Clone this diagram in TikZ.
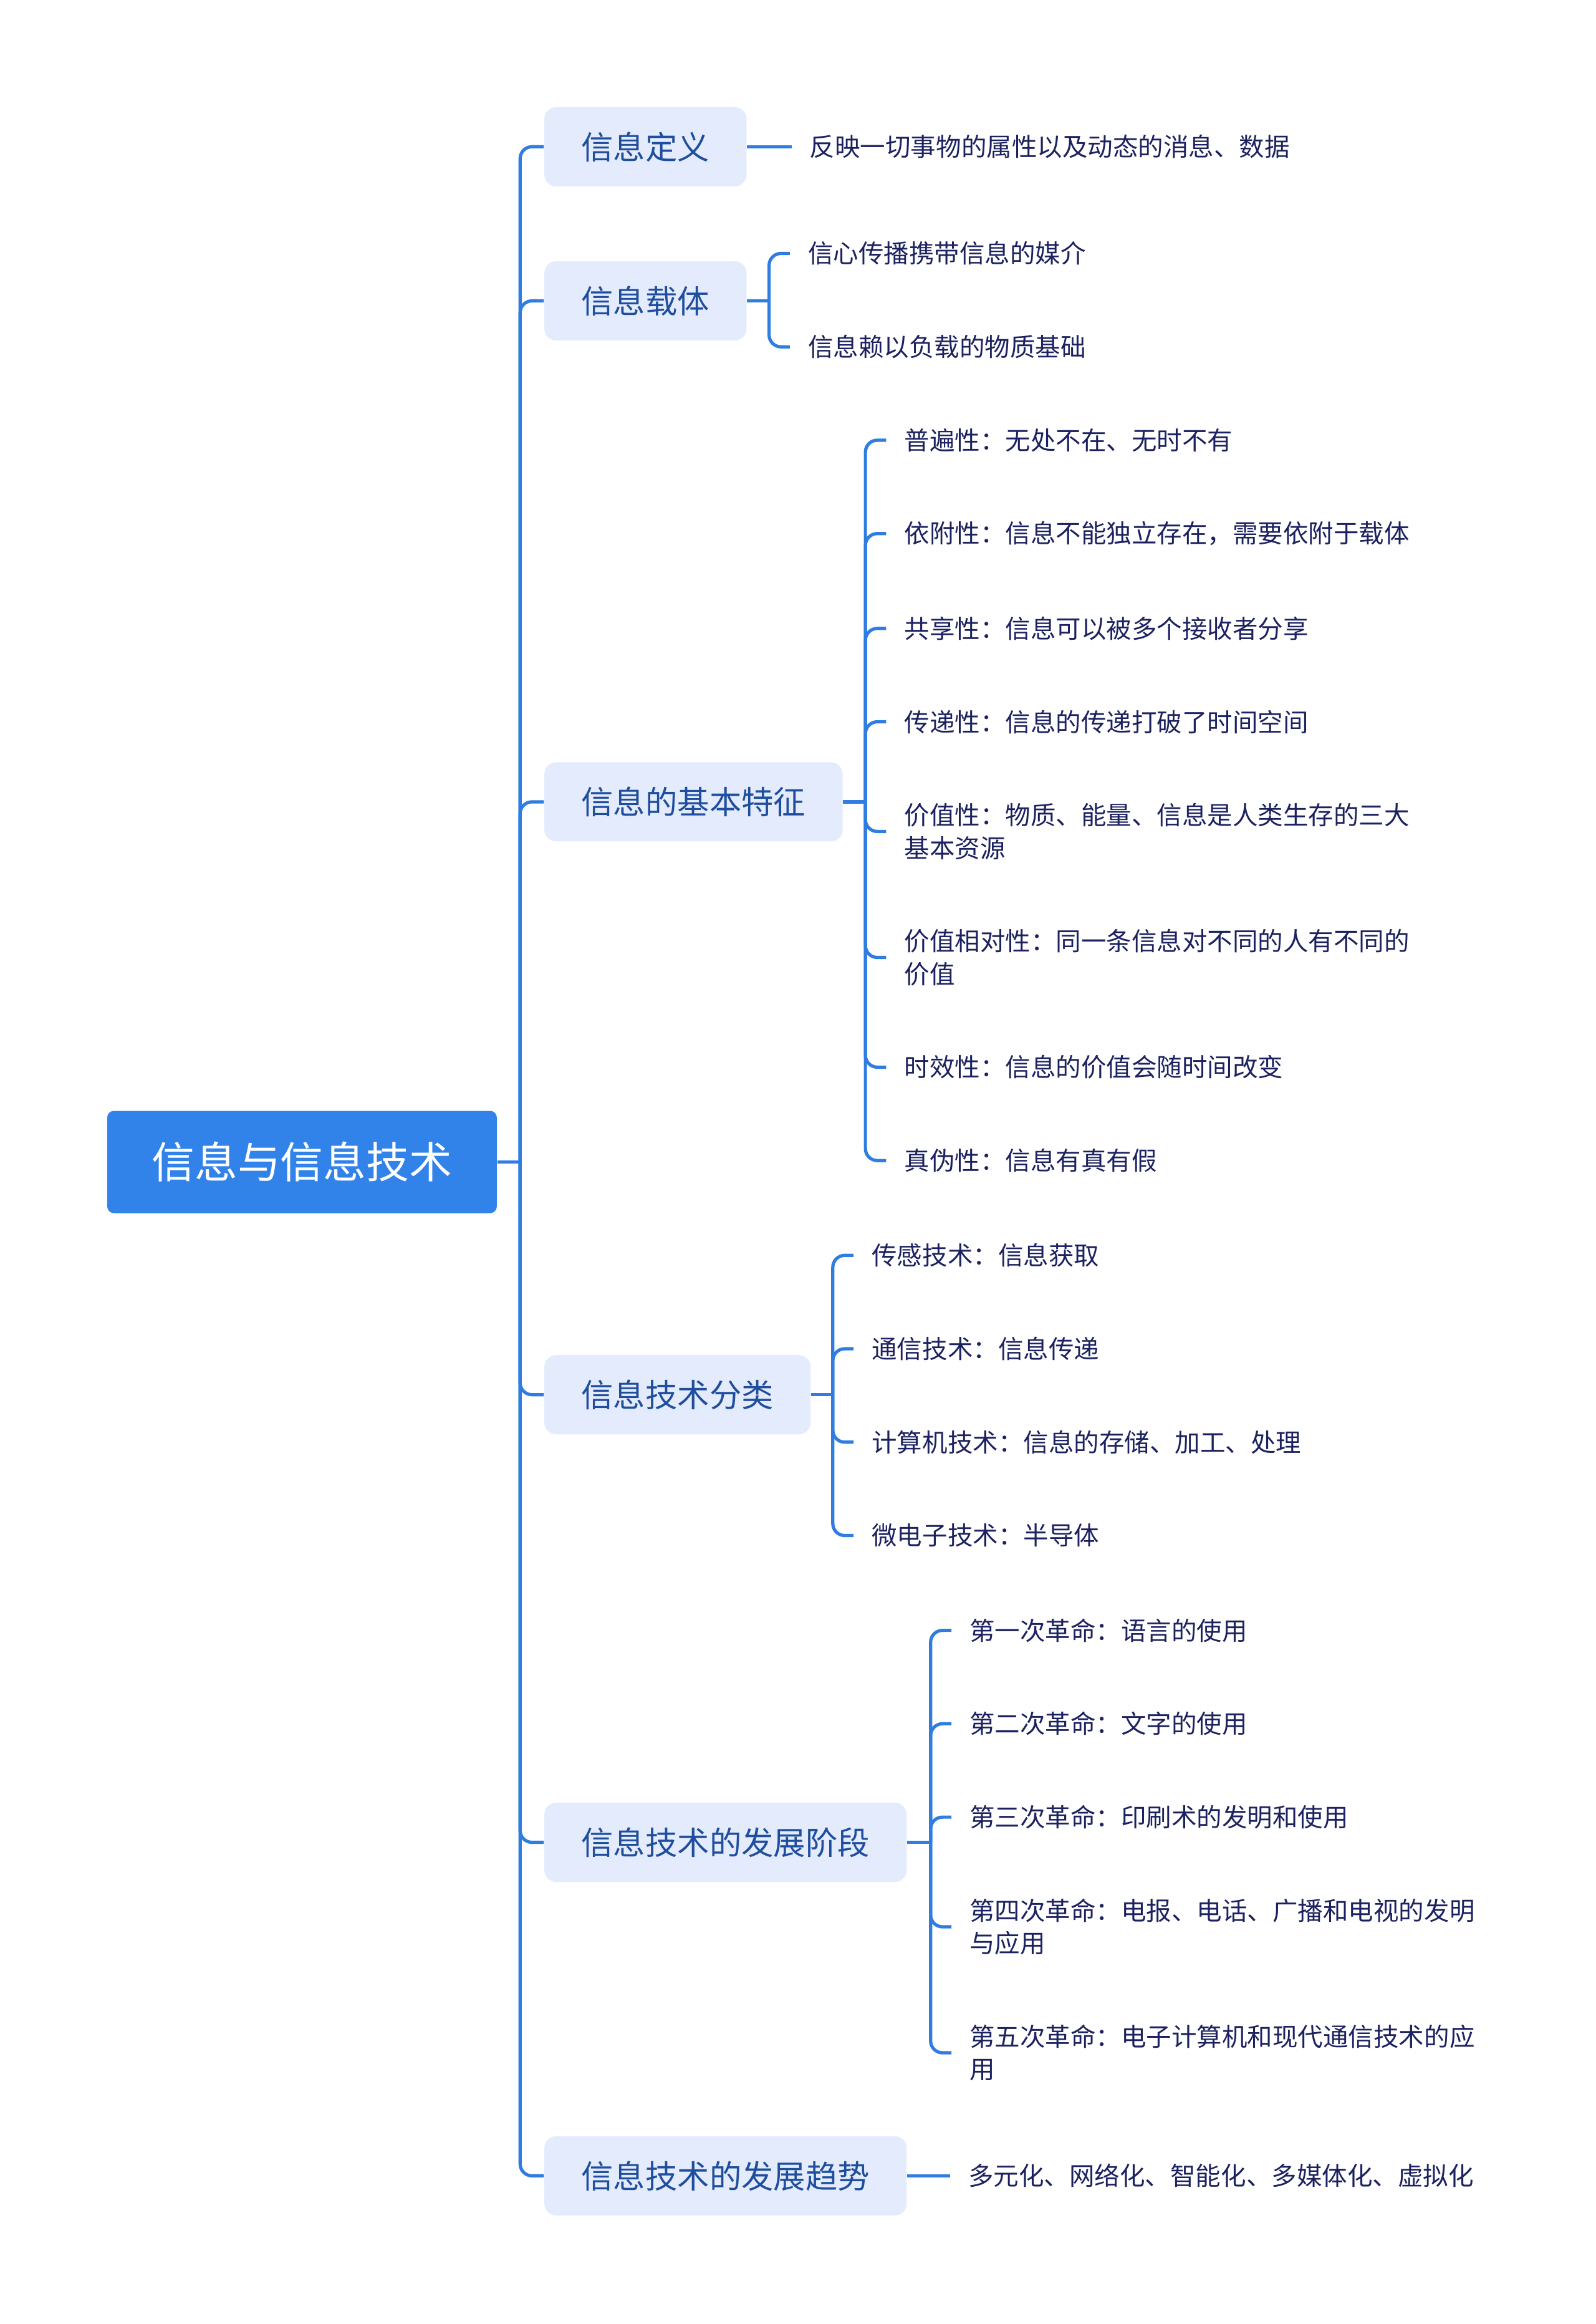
\documentclass[tikz,border=0pt]{standalone}
\usepackage{fontspec}
\setmainfont{Noto Sans CJK SC}
\usepackage{tikz}
\usetikzlibrary{positioning}
\definecolor{linkblue}{HTML}{2F7DE1}
\definecolor{rootfill}{HTML}{3183E9}
\definecolor{branchfill}{HTML}{E3EBFC}
\definecolor{branchtext}{HTML}{1F4E9E}
\definecolor{leaftext}{HTML}{1C2260}

\begin{document}
\begin{tikzpicture}[
    x=0.02cm, y=-0.02cm,
    every node/.style={font=\fontsize{9.7pt}{12.5pt}\selectfont},
    root/.style={
        rectangle,
        rounded corners=0.09cm,
        fill=rootfill,
        text=white,
        font=\fontsize{16.5pt}{20pt}\selectfont,
        minimum height=1.38cm,
        inner xsep=0.6cm,
        anchor=west
    },
    branch/.style={
        rectangle,
        rounded corners=0.16cm,
        fill=branchfill,
        text=branchtext,
        font=\fontsize{12.3pt}{15pt}\selectfont,
        minimum height=1.07cm,
        inner xsep=0.5cm,
        anchor=west
    },
    leaf/.style={text=leaftext, inner xsep=0.24cm, inner ysep=0pt, align=left, anchor=west},
    link/.style={line width=1.25pt, draw=linkblue, rounded corners=0.16cm}
]
\useasboundingbox (0,0) rectangle (1077,1568);

\node[root] (root) at (72,784) {信息与信息技术};

\node[branch] (def) at (367,99) {信息定义};
\node[branch] (carrier) at (367,203) {信息载体};
\node[branch] (feat) at (367,541) {信息的基本特征};
\node[branch] (cls) at (367,941) {信息技术分类};
\node[branch] (stage) at (367,1243) {信息技术的发展阶段};
\node[branch] (trend) at (367,1468) {信息技术的发展趋势};

\coordinate (trunk) at (351,784);
\draw[link] (root.east) -- (trunk);
\draw[link] (trunk) |- (def.west);
\draw[link] (trunk) |- (carrier.west);
\draw[link] (trunk) |- (feat.west);
\draw[link] (trunk) |- (cls.west);
\draw[link] (trunk) |- (stage.west);
\draw[link] (trunk) |- (trend.west);

% definition
\node[leaf, right=0.6cm of def] (d1) {反映一切事物的属性以及动态的消息、数据};
\draw[link] (def.east) -- (d1.west);

% carrier
\node[leaf] (c1) at (533,171) {信心传播携带信息的媒介};
\node[leaf] (c2) at (533,234) {信息赖以负载的物质基础};
\coordinate (carrierhub) at (519,203);
\draw[link] (carrier.east) -- (carrierhub);
\draw[link] (carrierhub) |- (c1.west);
\draw[link] (carrierhub) |- (c2.west);

% features
\node[leaf] (f1) at (598,297) {普遍性：无处不在、无时不有};
\node[leaf] (f2) at (598,360) {依附性：信息不能独立存在，需要依附于载体};
\node[leaf] (f3) at (598,424) {共享性：信息可以被多个接收者分享};
\node[leaf] (f4) at (598,487) {传递性：信息的传递打破了时间空间};
\node[leaf] (f5) at (598,561) {价值性：物质、能量、信息是人类生存的三大\\基本资源};
\node[leaf] (f6) at (598,646) {价值相对性：同一条信息对不同的人有不同的\\价值};
\node[leaf] (f7) at (598,720) {时效性：信息的价值会随时间改变};
\node[leaf] (f8) at (598,783) {真伪性：信息有真有假};
\coordinate (feathub) at (584,541);
\draw[link] (feat.east) -- (feathub);
\draw[link] (feathub) |- (f1.west);
\draw[link] (feathub) |- (f2.west);
\draw[link] (feathub) |- (f3.west);
\draw[link] (feathub) |- (f4.west);
\draw[link] (feathub) |- (f5.west);
\draw[link] (feathub) |- (f6.west);
\draw[link] (feathub) |- (f7.west);
\draw[link] (feathub) |- (f8.west);

% technology classes
\node[leaf] (k1) at (576,847) {传感技术：信息获取};
\node[leaf] (k2) at (576,910) {通信技术：信息传递};
\node[leaf] (k3) at (576,973) {计算机技术：信息的存储、加工、处理};
\node[leaf] (k4) at (576,1036) {微电子技术：半导体};
\coordinate (clshub) at (562,941);
\draw[link] (cls.east) -- (clshub);
\draw[link] (clshub) |- (k1.west);
\draw[link] (clshub) |- (k2.west);
\draw[link] (clshub) |- (k3.west);
\draw[link] (clshub) |- (k4.west);

% development stages
\node[leaf] (s1) at (642,1100) {第一次革命：语言的使用};
\node[leaf] (s2) at (642,1163) {第二次革命：文字的使用};
\node[leaf] (s3) at (642,1226) {第三次革命：印刷术的发明和使用};
\node[leaf] (s4) at (642,1300) {第四次革命：电报、电话、广播和电视的发明\\与应用};
\node[leaf] (s5) at (642,1385) {第五次革命：电子计算机和现代通信技术的应\\用};
\coordinate (stagehub) at (628,1243);
\draw[link] (stage.east) -- (stagehub);
\draw[link] (stagehub) |- (s1.west);
\draw[link] (stagehub) |- (s2.west);
\draw[link] (stagehub) |- (s3.west);
\draw[link] (stagehub) |- (s4.west);
\draw[link] (stagehub) |- (s5.west);

% trend
\node[leaf, right=0.58cm of trend] (t1) {多元化、网络化、智能化、多媒体化、虚拟化};
\draw[link] (trend.east) -- (t1.west);

\end{tikzpicture}
\end{document}
